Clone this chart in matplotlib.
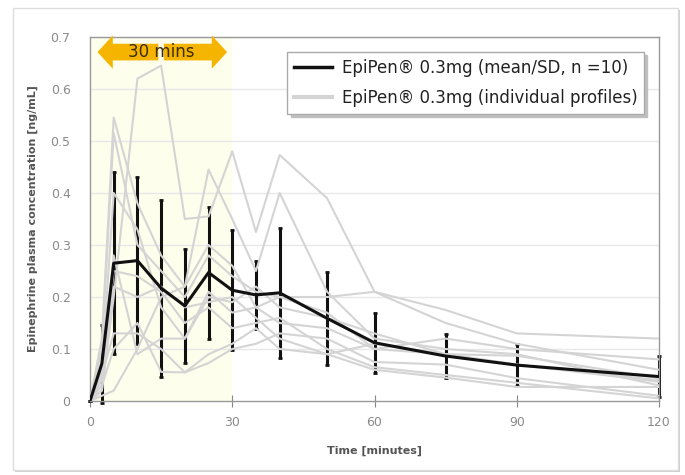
import matplotlib
matplotlib.use("Agg")
import matplotlib.pyplot as plt
from matplotlib.patches import FancyArrowPatch, Rectangle

# time points [minutes]
times = [0, 2.5, 5, 10, 15, 20, 25, 30, 35, 40, 50, 60, 75, 90, 120]

# mean / SD (n = 10)
mean_conc = [0, 0.072, 0.265, 0.27, 0.217, 0.183, 0.247, 0.213, 0.204, 0.208, 0.159, 0.112, 0.0865, 0.069, 0.047]
sd_conc = [0, 0.075, 0.175, 0.16, 0.17, 0.11, 0.127, 0.115, 0.066, 0.125, 0.09, 0.058, 0.042, 0.041, 0.04]

# individual profiles (approximate)
subj01 = [0, 0.02, 0.20, 0.62, 0.645, 0.35, 0.355, 0.48, 0.325, 0.473, 0.39, 0.21, 0.175, 0.13, 0.12]
subj02 = [0, 0.12, 0.545, 0.38, 0.28, 0.22, 0.445, 0.35, 0.25, 0.40, 0.21, 0.12, 0.10, 0.09, 0.03]
subj03 = [0, 0.10, 0.515, 0.30, 0.25, 0.20, 0.28, 0.24, 0.21, 0.20, 0.20, 0.21, 0.15, 0.11, 0.06]
subj04 = [0, 0.06, 0.40, 0.33, 0.18, 0.12, 0.20, 0.19, 0.22, 0.18, 0.16, 0.13, 0.09, 0.07, 0.04]
subj05 = [0, 0.01, 0.02, 0.10, 0.20, 0.22, 0.30, 0.26, 0.18, 0.20, 0.17, 0.10, 0.12, 0.10, 0.08]
subj06 = [0, 0.05, 0.13, 0.13, 0.10, 0.055, 0.073, 0.10, 0.11, 0.13, 0.12, 0.075, 0.07, 0.044, 0.01]
subj07 = [0, 0.04, 0.25, 0.24, 0.21, 0.15, 0.18, 0.14, 0.15, 0.16, 0.10, 0.065, 0.05, 0.035, 0.005]
subj08 = [0, 0.03, 0.10, 0.15, 0.056, 0.055, 0.09, 0.11, 0.14, 0.10, 0.09, 0.11, 0.09, 0.087, 0.044]
subj09 = [0, 0.02, 0.22, 0.20, 0.22, 0.18, 0.19, 0.20, 0.16, 0.12, 0.09, 0.06, 0.045, 0.027, 0.027]
subj10 = [0, 0.06, 0.28, 0.09, 0.12, 0.12, 0.21, 0.17, 0.18, 0.15, 0.14, 0.10, 0.09, 0.07, 0.037]
subjects = [subj01, subj02, subj03, subj04, subj05, subj06, subj07, subj08, subj09, subj10]

x_ticks = [0, 30, 60, 90, 120]
y_ticks = [0, 0.1, 0.2, 0.3, 0.4, 0.5, 0.6, 0.7]
y_ticklabels = ["0", "0.1", "0.2", "0.3", "0.4", "0.5", "0.6", "0.7"]

fig = plt.figure(figsize=(6.85, 4.75), dpi=100)
ax = fig.add_axes([90 / 685, 1 - 401 / 475, 569 / 685, 364 / 475])

# outer frame with a little shadow
fig.patches.append(Rectangle((15 / 685, 1 - 472 / 475), 665 / 685, 462 / 475, transform=fig.transFigure,
                             facecolor="#cfcfcf", edgecolor="none", zorder=-2))
fig.patches.append(Rectangle((13 / 685, 1 - 470 / 475), 665 / 685, 462 / 475, transform=fig.transFigure,
                             facecolor="white", edgecolor="#dddddd", lw=1, zorder=-1))

# first 30 minutes shaded
ax.axvspan(0, 30, color="#fefeec", zorder=0, lw=0)

for ylev in y_ticks[1:]:
    ax.axhline(ylev, color="#e8e8e8", lw=1, zorder=0.5)

# error bars under the grey profiles
ax.errorbar(times, mean_conc, yerr=sd_conc, fmt="none", ecolor="#111111", elinewidth=2.2,
            capsize=1.5, capthick=2, zorder=2, clip_on=False)

for i, prof in enumerate(subjects):
    ax.plot(times, prof, color="#d4d4d4", lw=1.5, zorder=3,
            label="EpiPen\u00ae 0.3mg (individual profiles)" if i == 0 else None)

ax.plot(times, mean_conc, color="#111111", lw=2.2, zorder=4,
        label="EpiPen\u00ae 0.3mg (mean/SD, n =10)")

ax.set_xlim(0, 120)
ax.set_ylim(0, 0.7)
ax.set_xticks(x_ticks)
ax.set_yticks(y_ticks)
ax.set_yticklabels(y_ticklabels)
ax.tick_params(axis="y", length=0, pad=14, labelsize=9, labelcolor="#8a8a8a")
ax.tick_params(axis="x", direction="inout", length=8, color="#888888", pad=7, labelsize=9,
               labelcolor="#8a8a8a")
for sp in ax.spines.values():
    sp.set_color("#999999")
    sp.set_linewidth(1)

ax.set_xlabel("Time [minutes]", fontsize=8, fontweight="bold", color="#555555", labelpad=12)
ax.set_ylabel("Epinephrine plasma concentration [ng/mL]", fontsize=8, fontweight="bold",
              color="#555555", labelpad=9)

# legend: mean first, then individuals
handles, labels = ax.get_legend_handles_labels()
leg = ax.legend(handles[::-1], labels[::-1], loc="upper right", fontsize=12, handlelength=2.3,
                handletextpad=0.55, labelspacing=0.75, borderaxespad=0.9, borderpad=0.4,
                fancybox=False, framealpha=1, edgecolor="#aaaaaa",
                shadow={"ox": 2.5, "oy": -2.5, "color": "#bbbbbb", "alpha": 0.9})
for t in leg.get_texts():
    t.set_color("#222222")
leg.legend_handles[0].set_linewidth(2.5)
leg.legend_handles[1].set_linewidth(3)

# "30 mins" double arrow
arr_style = "simple,head_length=11,head_width=24,tail_width=12"
for x_end in (1, 29.5):
    ax.add_patch(FancyArrowPatch((15, 0.671), (x_end, 0.671), arrowstyle=arr_style,
                                 color="#f5b400", lw=0, zorder=5, clip_on=False))
ax.text(15, 0.671, "30 mins", ha="center", va="center", fontsize=12, color="#3a2c05", zorder=6)

fig.savefig("out.png", dpi=100)
